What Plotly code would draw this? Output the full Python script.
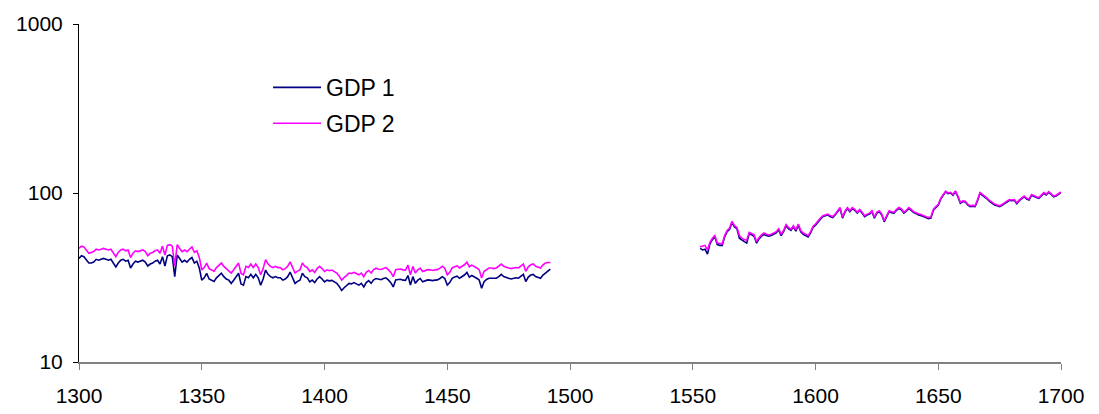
import plotly.graph_objects as go

# ---- data ----
start_early = 1300
start_late = 1553

gdp1_early = [
    41.0, 42.5, 42.0, 40.0, 38.5, 38.5, 39.0, 40.5, 40.0, 40.5,
    41.0, 40.5, 40.0, 40.5, 38.5, 36.5, 38.5, 40.0, 40.5, 39.5,
    40.0, 36.0, 38.0, 39.5, 39.0, 39.5, 40.0, 39.0, 37.0, 38.0,
    38.5, 39.5, 40.0, 38.0, 42.0, 37.0, 42.5, 43.0, 42.0, 32.0,
    43.0, 41.0, 39.0, 40.0, 39.0, 40.5, 41.5, 38.5, 39.5, 36.0,
    30.5, 31.5, 33.5, 31.0, 30.5, 30.0, 31.5, 32.5, 33.5, 32.0,
    31.0, 30.5, 29.2, 30.5, 32.0, 33.5, 29.0, 28.5, 32.0, 31.5,
    33.0, 31.5, 33.0, 31.5, 28.5, 31.0, 35.0, 33.0, 32.0, 31.5,
    32.0, 31.5, 31.5, 30.5, 31.0, 32.0, 34.0, 31.5, 29.2, 30.0,
    30.5, 33.5, 32.0, 31.5, 29.8, 30.5, 29.5, 31.0, 32.0, 31.0,
    29.8, 30.5, 30.2, 30.4, 29.8, 29.2, 28.0, 26.5, 27.5, 28.5,
    29.2, 29.0, 29.5, 29.0, 28.5, 29.2, 27.8, 29.5, 30.3, 29.2,
    30.6, 31.2, 30.8, 30.7, 31.2, 31.5, 30.6, 29.5, 27.8, 30.6,
    30.8, 30.9, 30.5, 30.4, 32.5, 28.5, 32.0, 29.2, 30.5, 31.2,
    29.8, 30.2, 30.6, 30.5, 30.3, 30.5, 30.6, 31.2, 32.0, 31.2,
    28.5, 29.5, 31.3, 31.8, 32.2, 31.3, 32.0, 32.7, 33.9, 31.8,
    32.5, 32.0, 31.3, 30.6, 27.3, 29.9, 30.8, 31.3, 31.3, 31.0,
    31.3, 32.0, 33.0, 32.0, 31.5, 31.3, 31.0, 31.3, 31.5, 31.3,
    32.0, 33.0, 29.9, 31.8, 32.7, 33.0, 32.0, 31.5, 31.3, 32.7,
    33.5, 34.5, 35.5,
]

gdp2_early = [
    47.0, 48.5, 48.0, 46.0, 44.0, 44.5, 45.0, 46.5, 46.0, 46.5,
    47.0, 46.5, 46.0, 46.5, 44.5, 42.0, 44.5, 46.0, 46.5, 45.5,
    46.0, 41.5, 44.0, 45.5, 45.0, 45.5, 46.0, 45.0, 42.5, 44.0,
    44.5, 45.5, 46.0, 44.0, 48.5, 43.0, 49.0, 49.5, 48.5, 37.0,
    49.5, 47.0, 45.0, 46.0, 45.0, 46.5, 48.0, 44.5, 45.5, 41.5,
    35.1, 36.2, 38.5, 35.7, 35.1, 34.5, 36.2, 37.4, 38.5, 36.8,
    35.7, 35.1, 33.6, 35.1, 36.8, 38.5, 33.4, 32.8, 36.8, 36.2,
    38.0, 36.2, 38.0, 36.2, 32.8, 35.7, 40.3, 38.0, 36.8, 36.2,
    36.8, 36.2, 36.2, 35.1, 35.7, 36.8, 39.1, 36.2, 33.6, 34.5,
    35.1, 38.5, 36.8, 36.2, 34.3, 35.1, 33.9, 35.7, 36.8, 35.7,
    34.3, 35.1, 34.7, 35.0, 34.3, 33.6, 32.2, 30.5, 31.6, 32.8,
    33.6, 33.4, 33.9, 33.4, 32.8, 33.6, 32.0, 33.9, 34.8, 33.6,
    35.2, 35.9, 35.4, 35.3, 35.9, 36.2, 35.2, 33.9, 32.0, 35.2,
    35.4, 35.5, 35.1, 35.0, 37.4, 32.8, 36.8, 33.6, 35.1, 35.9,
    34.3, 34.7, 35.2, 35.1, 34.8, 35.1, 35.2, 35.9, 36.8, 35.9,
    32.8, 33.9, 36.0, 36.6, 37.0, 36.0, 36.8, 37.6, 39.0, 36.6,
    37.4, 36.8, 36.0, 35.2, 31.4, 34.4, 35.4, 36.0, 36.0, 35.7,
    36.0, 36.8, 38.0, 36.8, 36.2, 36.0, 35.7, 36.0, 36.2, 36.0,
    36.8, 38.0, 34.4, 36.6, 37.6, 38.0, 36.8, 36.2, 36.0, 37.6,
    38.5, 38.8, 38.8,
]

gdp1_late = [
    47.0, 46.0, 46.5, 43.5, 50.0, 53.0, 55.0, 49.5, 49.0, 49.0,
    55.0, 59.0, 61.0, 67.0, 63.0, 61.5, 54.0, 52.5, 51.5, 50.5,
    57.5, 56.5, 55.5, 50.5, 53.5, 55.5, 57.0, 56.0, 55.5, 56.0,
    57.0, 58.0, 60.5, 56.0, 59.0, 64.0, 61.5, 60.0, 63.0, 59.5,
    64.5, 59.0, 57.0, 56.0, 55.0, 58.0, 62.5, 64.5, 67.5,
    70.0, 72.5, 73.5, 74.0, 72.5, 71.5, 74.0, 77.0, 81.0, 71.0,
    77.0, 81.0, 77.5, 81.0, 79.0, 76.0, 79.0, 76.0, 72.5, 74.0,
    75.0, 77.5, 71.0, 76.0, 77.5, 74.0, 67.5, 72.5, 77.5, 76.5,
    76.0, 79.0, 81.0, 79.5, 76.0, 78.0, 81.0, 79.0, 76.5, 75.5,
    74.0, 73.5, 72.5, 72.0, 70.5, 71.0, 79.0, 82.0, 84.5, 92.0,
    97.0, 101.5, 99.0, 100.0, 97.0, 102.0, 95.0, 87.0, 89.0, 88.5,
    85.0, 83.0, 83.5, 83.0, 90.0, 99.5, 97.0, 95.0, 92.0, 89.0,
    86.5, 85.0, 84.0, 83.0, 84.5, 87.0, 88.5, 90.5, 90.0, 90.5,
    86.5, 90.0, 93.0, 95.0, 92.0, 91.0, 97.0, 95.0, 94.0, 93.0,
    96.0, 99.5, 97.5, 101.0, 98.0, 95.0, 96.0, 98.0, 100.5,
]

gdp2_late = [
    48.0, 48.5, 49.0, 46.0, 51.0, 54.0, 56.0, 50.5, 50.0, 50.0,
    56.0, 60.0, 62.0, 68.0, 64.0, 62.5, 56.0, 54.0, 53.0, 52.5,
    58.5, 57.5, 56.5, 51.5, 54.5, 56.5, 58.0, 57.0, 56.5, 57.0,
    58.0, 59.0, 61.5, 57.0, 60.0, 65.0, 62.5, 61.0, 64.0, 60.5,
    65.5, 60.0, 58.0, 57.0, 56.0, 59.0, 63.5, 65.5, 68.5,
    71.0, 73.5, 74.5, 75.0, 73.5, 72.5, 75.0, 78.0, 82.0, 72.0,
    78.0, 82.0, 78.5, 82.0, 80.0, 77.0, 80.0, 77.0, 73.5, 75.0,
    76.0, 78.5, 72.0, 77.0, 78.5, 75.0, 68.5, 73.5, 78.5, 77.5,
    77.0, 80.0, 82.0, 80.5, 77.0, 79.0, 82.0, 80.0, 77.5, 76.5,
    75.0, 74.5, 73.5, 73.0, 71.5, 72.0, 80.0, 83.0, 85.5, 93.0,
    98.0, 102.5, 100.0, 101.0, 98.0, 103.0, 96.0, 88.0, 90.0, 89.5,
    86.0, 84.0, 84.5, 84.0, 91.0, 100.5, 98.0, 96.0, 93.0, 90.0,
    87.5, 86.0, 85.0, 84.0, 85.5, 88.0, 89.5, 91.5, 91.0, 91.5,
    87.5, 91.0, 94.0, 96.0, 93.0, 92.0, 98.0, 96.0, 95.0, 94.0,
    97.0, 100.5, 98.5, 102.0, 99.0, 96.0, 97.0, 99.0, 101.5,
]

x_ticks = [1300, 1350, 1400, 1450, 1500, 1550, 1600, 1650, 1700]
y_ticks = [10, 100, 1000]
y_tick_labels = ["10", "100", "1000"]
series_names = ["GDP 1", "GDP 2"]
series_colors = ["#000080", "#FF00FF"]


def build(early, late):
    xs = list(range(start_early, start_early + len(early)))
    xs += [None]
    xs += list(range(start_late, start_late + len(late)))
    ys = list(early) + [None] + list(late)
    return xs, ys


fig = go.Figure()
for i, (name, early, late) in enumerate(
        [(series_names[0], gdp1_early, gdp1_late),
         (series_names[1], gdp2_early, gdp2_late)]):
    xs, ys = build(early, late)
    fig.add_trace(go.Scatter(
        x=xs, y=ys, mode="lines", name=name,
        line=dict(color=series_colors[i], width=1.6),
        connectgaps=False, legendgroup=name,
    ))

font = "Liberation Sans, Arial, sans-serif"
# the page body adds an 8px offset, so the figure is sized 8px smaller
fig.update_layout(
    width=1091, height=406,
    margin=dict(l=71, r=38, t=16, b=52, autoexpand=False),
    paper_bgcolor="white", plot_bgcolor="white",
    font=dict(family=font, size=21, color="black"),
    showlegend=True,
    legend=dict(
        x=0.1925, y=0.876, xanchor="left", yanchor="top",
        bgcolor="rgba(0,0,0,0)", font=dict(size=23, family=font),
        tracegroupgap=3, itemwidth=48,
    ),
)
fig.update_xaxes(
    range=[1300, 1700], tickmode="array", tickvals=x_ticks,
    showgrid=False, zeroline=False, automargin=False,
    showline=True, linecolor="#808080", linewidth=2,
    ticks="outside", ticklen=6, tickcolor="#808080", tickwidth=1,
    ticklabelstandoff=8,
)
fig.update_yaxes(
    type="log", range=[1, 3], tickmode="array",
    tickvals=y_ticks, ticktext=y_tick_labels,
    showgrid=False, zeroline=False, automargin=False,
    showline=True, linecolor="black", linewidth=1,
    ticks="outside", ticklen=5, tickcolor="black", tickwidth=1,
    ticklabelstandoff=6,
)

fig.write_html("out.html")
